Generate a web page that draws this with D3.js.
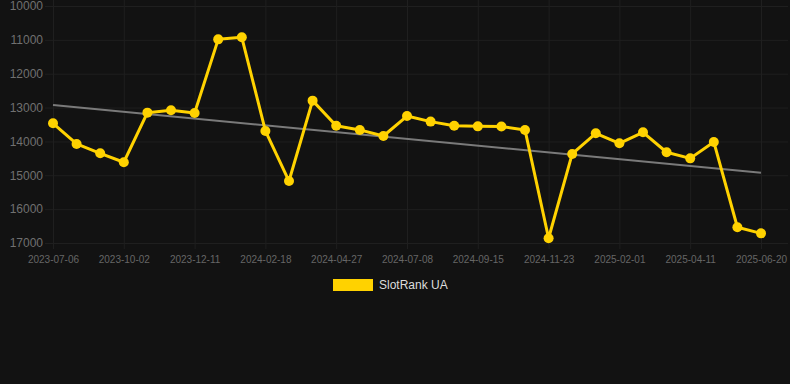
<!DOCTYPE html>
<html>
<head>
<meta charset="utf-8">
<script src="https://cdn.jsdelivr.net/npm/d3@7"></script>
<style>
  html, body { margin: 0; padding: 0; background: #121212; }
  svg { display: block; }
</style>
</head>
<body>
<div id="chart"></div>
<script>
// data
var dates = [
  "2023-07-06", "2023-08-04", "2023-09-02", "2023-10-02", "2023-10-25", "2023-11-18",
  "2023-12-11", "2024-01-03", "2024-01-26", "2024-02-18", "2024-03-12", "2024-04-04",
  "2024-04-27", "2024-05-21", "2024-06-14", "2024-07-08", "2024-07-31", "2024-08-23",
  "2024-09-15", "2024-10-08", "2024-10-31", "2024-11-23", "2024-12-16", "2025-01-08",
  "2025-02-01", "2025-02-24", "2025-03-19", "2025-04-11", "2025-05-04", "2025-05-27",
  "2025-06-20"
];
var rankValues = [
  13465, 14075, 14350, 14615, 13150, 13080,
  13160, 10985, 10925, 13690, 15170, 12795,
  13535, 13660, 13840, 13250, 13415, 13535,
  13555, 13560, 13660, 16860, 14370, 13760,
  14055, 13730, 14320, 14500, 14015, 16535,
  16715
];
var trendValues = [12925, 14925];   // start / end of the grey trend line
var yTicks = [10000, 11000, 12000, 13000, 14000, 15000, 16000, 17000];
var seriesName = "SlotRank UA";

var width = 790, height = 384;
var plotLeft = 53, lastX = 761, plotRight = 788, plotTop = 6, plotBottom = 243;

var svg = d3.select("#chart").append("svg")
  .attr("width", width)
  .attr("height", height)
  .style("background", "#121212");

var x = d3.scalePoint()
  .domain(dates)
  .range([plotLeft, lastX]);

var y = d3.scaleLinear()
  .domain([10000, 17000])
  .range([plotTop, plotBottom]);

var gridColor = "#1f1f1f";

// horizontal grid + y labels
var yAxis = d3.axisLeft(y)
  .tickValues(yTicks)
  .tickFormat(d3.format("d"))
  .tickSize(-(plotRight - plotLeft))
  .tickPadding(10);

var gy = svg.append("g")
  .attr("transform", "translate(" + plotLeft + ",0)")
  .call(yAxis);
gy.select(".domain").remove();
gy.selectAll("line").attr("stroke", gridColor).attr("x1", -8);
gy.selectAll("text")
  .attr("fill", "#707070")
  .style("font", "12px Arial, 'Liberation Sans', sans-serif");

// vertical grid + x labels (every 3rd date)
var xLabels = dates.filter(function(d, i) { return i % 3 === 0; });
var xAxis = d3.axisBottom(x)
  .tickValues(xLabels)
  .tickSize(-plotBottom)
  .tickPadding(13);

var gx = svg.append("g")
  .attr("transform", "translate(0," + plotBottom + ")")
  .call(xAxis);
gx.select(".domain").remove();
gx.selectAll("line").attr("stroke", gridColor).attr("y1", 6);
gx.selectAll("text")
  .attr("fill", "#666")
  .style("font", "10px Arial, 'Liberation Sans', sans-serif");

// trend line
svg.append("line")
  .attr("x1", x(dates[0]))
  .attr("y1", y(trendValues[0]))
  .attr("x2", x(dates[dates.length - 1]))
  .attr("y2", y(trendValues[1]))
  .attr("stroke", "#7a7a7a")
  .attr("stroke-width", 2);

// series line
var points = dates.map(function(d, i) { return [d, rankValues[i]]; });
var line = d3.line()
  .x(function(d) { return x(d[0]); })
  .y(function(d) { return y(d[1]); });

svg.append("path")
  .datum(points)
  .attr("d", line)
  .attr("fill", "none")
  .attr("stroke", "#ffd200")
  .attr("stroke-width", 3)
  .attr("stroke-linejoin", "round");

svg.selectAll("circle.pt")
  .data(points)
  .enter().append("circle")
  .attr("class", "pt")
  .attr("cx", function(d) { return x(d[0]); })
  .attr("cy", function(d) { return y(d[1]); })
  .attr("r", 5)
  .attr("fill", "#ffd200");

// legend
var legend = svg.append("g").attr("transform", "translate(333,279)");
legend.append("rect")
  .attr("width", 40)
  .attr("height", 12)
  .attr("fill", "#ffd200");
legend.append("text")
  .attr("x", 46)
  .attr("y", 10)
  .attr("fill", "#dddddd")
  .style("font", "12px Arial, 'Liberation Sans', sans-serif")
  .text(seriesName);
</script>
</body>
</html>
